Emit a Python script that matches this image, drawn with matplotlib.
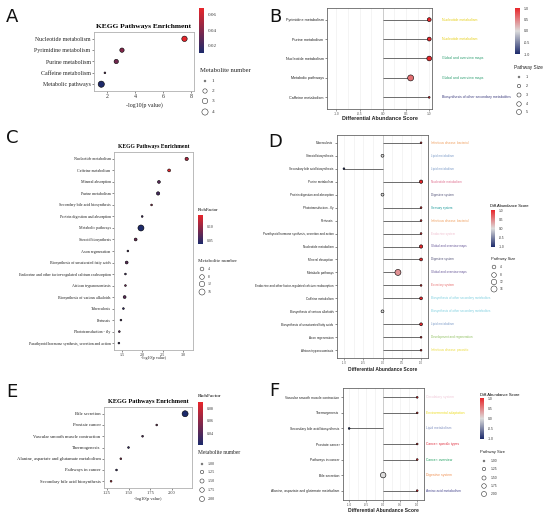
import matplotlib
matplotlib.use("Agg")
import matplotlib.pyplot as plt
import numpy as np
from matplotlib.colors import LinearSegmentedColormap, Normalize
from matplotlib.cm import ScalarMappable

# ---------------- DATA ----------------
# Panel A
a_paths = ["Nucleotide metabolism", "Pyrimidine metabolism", "Purine metabolism",
           "Caffeine metabolism", "Metabolic pathways"]
a_logp = [7.52, 3.05, 2.64, 1.83, 1.57]
a_rich = [0.068, 0.040, 0.035, 0.030, 0.011]
a_num = [3, 2, 2, 1, 4]
a_rich_ticks = [0.02, 0.04, 0.06]
a_num_legend = [1, 2, 3, 4]

# Panel B
b_paths = ["Pyrimidine metabolism", "Purine metabolism", "Nucleotide metabolism",
           "Metabolic pathways", "Caffeine metabolism"]
b_score = [1.0, 1.0, 1.0, 0.6, 1.0]
b_size = [2, 2, 3, 5, 1]
b_class = ["Nucleotide metabolism", "Nucleotide metabolism", "Global and overview maps",
           "Global and overview maps", "Biosynthesis of other secondary metabolites"]
b_size_legend = [1, 2, 3, 4, 5]

# Panel C
c_paths = ["Nucleotide metabolism", "Caffeine metabolism", "Mineral absorption",
           "Purine metabolism", "Secondary bile acid biosynthesis",
           "Protein digestion and absorption", "Metabolic pathways", "Steroid biosynthesis",
           "Axon regeneration", "Biosynthesis of unsaturated fatty acids",
           "Endocrine and other factor-regulated calcium reabsorption",
           "African trypanosomiasis", "Biosynthesis of various alkaloids", "Tuberculosis",
           "Pertussis", "Phototransduction - fly",
           "Parathyroid hormone synthesis, secretion and action"]
c_logp = [3.09, 2.66, 2.41, 2.39, 2.23, 2.00, 1.97, 1.84, 1.65, 1.62, 1.59, 1.59,
          1.57, 1.54, 1.48, 1.44, 1.43]
c_rich = [0.11, 0.14, 0.07, 0.06, 0.10, 0.06, 0.04, 0.08, 0.06, 0.07, 0.06, 0.08,
          0.07, 0.05, 0.06, 0.07, 0.05]
c_num = [3, 2, 2, 3, 1, 1, 16, 2, 1, 2, 1, 1, 2, 1, 1, 1, 1]
c_rich_ticks = [0.05, 0.10]
c_num_legend = [4, 8, 12, 16]

# Panel D
d_paths = ["Tuberculosis", "Steroid biosynthesis", "Secondary bile acid biosynthesis",
           "Purine metabolism", "Protein digestion and absorption", "Phototransduction - fly",
           "Pertussis", "Parathyroid hormone synthesis, secretion and action",
           "Nucleotide metabolism", "Mineral absorption", "Metabolic pathways",
           "Endocrine and other factor-regulated calcium reabsorption", "Caffeine metabolism",
           "Biosynthesis of various alkaloids", "Biosynthesis of unsaturated fatty acids",
           "Axon regeneration", "African trypanosomiasis"]
d_score = [1.0, 0.0, -1.0, 1.0, 0.0, 1.0, 1.0, 1.0, 1.0, 1.0, 0.4, 1.0, 1.0, 0.0, 1.0, 1.0, 1.0]
d_size = [1, 2, 1, 3, 2, 1, 1, 1, 3, 2, 16, 1, 2, 2, 2, 1, 1]
d_class = ["Infectious disease: bacterial", "Lipid metabolism", "Lipid metabolism",
           "Nucleotide metabolism", "Digestive system", "Sensory system",
           "Infectious disease: bacterial", "Endocrine system", "Global and overview maps",
           "Digestive system", "Global and overview maps", "Excretory system",
           "Biosynthesis of other secondary metabolites",
           "Biosynthesis of other secondary metabolites", "Lipid metabolism",
           "Development and regeneration", "Infectious disease: parasitic"]
d_size_legend = [4, 8, 12, 16]

# Panel E
e_paths = ["Bile secretion", "Prostate cancer", "Vascular smooth muscle contraction",
           "Thermogenesis", "Alanine, aspartate and glutamate metabolism",
           "Pathways in cancer", "Secondary bile acid biosynthesis"]
e_logp = [2.155, 1.826, 1.662, 1.499, 1.41, 1.36, 1.297]
e_rich = [0.021, 0.05, 0.04, 0.03, 0.06, 0.03, 0.08]
e_num = [2, 1, 1, 1, 1, 1, 1]
e_rich_ticks = [0.04, 0.06, 0.08]
e_num_legend = [1.00, 1.25, 1.50, 1.75, 2.00]

# Panel F
f_paths = ["Vascular smooth muscle contraction", "Thermogenesis",
           "Secondary bile acid biosynthesis", "Prostate cancer", "Pathways in cancer",
           "Bile secretion", "Alanine, aspartate and glutamate metabolism"]
f_score = [1.0, 1.0, -1.0, 1.0, 1.0, 0.0, 1.0]
f_size = [1, 1, 1, 1, 1, 2, 1]
f_class = ["Circulatory system", "Environmental adaptation", "Lipid metabolism",
           "Cancer: specific types", "Cancer: overview", "Digestive system",
           "Amino acid metabolism"]
f_size_legend = [1.00, 1.25, 1.50, 1.75, 2.00]

score_ticks = [1.0, 0.5, 0.0, -0.5, -1.0]

# ---------------- STYLE ----------------
W, H = 550, 517
SERIF = "Liberation Serif"
SANS = "Liberation Sans"
rich_cmap = LinearSegmentedColormap.from_list("rich", ["#1c2a6b", "#e8262b"])
score_cmap = LinearSegmentedColormap.from_list("score", ["#1c2a6b", "#dcdcdc", "#e8262b"])

b_colors = {"Nucleotide metabolism": "#e6cf1a", "Global and overview maps": "#2f9f72",
            "Biosynthesis of other secondary metabolites": "#3f3f80"}
d_colors = {"Infectious disease: bacterial": "#f0a060", "Lipid metabolism": "#7d9cc8",
            "Nucleotide metabolism": "#e07090", "Digestive system": "#55557a",
            "Sensory system": "#1a9a9a", "Endocrine system": "#f0c0d0",
            "Global and overview maps": "#6a5a9a", "Excretory system": "#e87070",
            "Biosynthesis of other secondary metabolites": "#80d0e0",
            "Development and regeneration": "#90c060",
            "Infectious disease: parasitic": "#ecdc40"}
f_colors = {"Circulatory system": "#f0c8d8", "Environmental adaptation": "#ecdc20",
            "Lipid metabolism": "#8090c0", "Cancer: specific types": "#e03040",
            "Cancer: overview": "#20a060", "Digestive system": "#f09050",
            "Amino acid metabolism": "#4a4a90"}

fig = plt.figure(figsize=(W / 100, H / 100), dpi=100)
fig.patch.set_facecolor("white")


def add_ax(l, t, r, b):
    return fig.add_axes([l / W, 1 - b / H, (r - l) / W, (b - t) / H])


def s_of(d_px):
    return (d_px * 72 / 100) ** 2


def diam(v, lo, hi, dmin, dmax):
    v = np.asarray(v, dtype=float)
    return dmin + (dmax - dmin) * np.sqrt(np.clip((v - lo) / (hi - lo), 0, 1))


ov = fig.add_axes([0, 0, 1, 1], zorder=10)
ov.set_xlim(0, W)
ov.set_ylim(H, 0)
ov.axis("off")
ov.patch.set_alpha(0)


def style_axes(ax, edge, fs_y, fs_x, family):
    for sp in ax.spines.values():
        sp.set_color(edge)
        sp.set_linewidth(0.6)
    ax.tick_params(axis="both", length=1.5, width=0.4, pad=1, colors="#333333")
    for lab in ax.get_yticklabels():
        lab.set_fontsize(fs_y)
        lab.set_family(family)
        lab.set_color("#222222")
    for lab in ax.get_xticklabels():
        lab.set_fontsize(fs_x)
        lab.set_family(family)
        lab.set_color("#333333")


def enrich_panel(box, paths, x, rich, num, xlim, xticks, xticklabels, rnorm, nlo, nhi,
                 dmin, dmax, fs_y, fs_x, title, title_fs, xlab_y, xlab_fs):
    ax = add_ax(*box)
    n = len(paths)
    y = np.arange(n)[::-1]
    d = diam(num, nlo, nhi, dmin, dmax)
    ax.scatter(x, y, s=s_of(d), c=rich, cmap=rich_cmap, norm=rnorm,
               edgecolors="black", linewidths=0.4, zorder=3)
    ax.set_xlim(*xlim)
    ax.set_ylim(-0.6, n - 0.4)
    ax.set_yticks(y)
    ax.set_yticklabels(paths)
    ax.set_xticks(xticks)
    ax.set_xticklabels(xticklabels)
    style_axes(ax, "#b0b0b0", fs_y, fs_x, SERIF)
    cx = (box[0] + box[2]) / 2
    ov.text(cx, box[1] - 3, title, ha="center", va="bottom", fontsize=title_fs,
            fontweight="bold", family=SERIF)
    ov.text(cx, xlab_y, "-log10(p value)", ha="center", va="center", fontsize=xlab_fs,
            family=SERIF, color="#222222")
    return ax


def lollipop_panel(box, paths, score, size, classes, cmap_cls, slo, shi, dmin, dmax,
                   fs_y, fs_x, fs_cls, xlim, xlab_y, xlab_fs, cls_x):
    ax = add_ax(*box)
    n = len(paths)
    y = np.arange(n)[::-1]
    for xv in np.arange(-1.0, 1.01, 0.25):
        ax.axvline(xv, color="#ececec", lw=0.4, zorder=0)
    ax.axvline(0, color="#bdbdbd", lw=0.5, zorder=1)
    ax.hlines(y, 0, score, color="#555555", lw=0.6, zorder=2)
    d = diam(size, slo, shi, dmin, dmax)
    ax.scatter(score, y, s=s_of(d), c=score, cmap=score_cmap, norm=Normalize(-1, 1),
               edgecolors="black", linewidths=0.4, zorder=3)
    ax.set_xlim(*xlim)
    ax.set_ylim(-0.6, n - 0.4)
    ax.set_yticks(y)
    ax.set_yticklabels(paths)
    ax.set_xticks(score_ticks[::-1])
    ax.set_xticklabels(["-1.0", "-0.5", "0.0", "0.5", "1.0"])
    style_axes(ax, "#666666", fs_y, fs_x, SANS)
    ax.tick_params(axis="x", colors="#555555", pad=0.6)
    cx = (box[0] + box[2]) / 2
    ov.text(cx, xlab_y, "Differential Abundance Score", ha="center", va="center",
            fontsize=xlab_fs, fontweight="bold", family=SANS, color="#222222")
    top, bot = box[1], box[3]
    sp = (bot - top) / (n + 0.2)
    for i, c in enumerate(classes):
        yy = top + (0.6 + i) * sp
        ov.text(cls_x, yy, c, ha="left", va="center", fontsize=fs_cls, family=SANS,
                color=cmap_cls[c])
    return ax


def colorbar(box, cmap, norm, ticks, labels, fs, family):
    cax = add_ax(*box)
    cb = fig.colorbar(ScalarMappable(norm=norm, cmap=cmap), cax=cax)
    cb.set_ticks(ticks)
    cb.set_ticklabels(labels)
    cb.outline.set_visible(False)
    cax.tick_params(length=1.0, width=0.3, pad=1.5, colors="white", labelcolor="#333333")
    for lab in cax.get_yticklabels():
        lab.set_fontsize(fs)
        lab.set_family(family)
    return cax


def size_legend(title, tx, ty, values, labels, cx, lx, ys, lo, hi, dmin, dmax, fs_t, fs_l,
                family):
    ov.text(tx, ty, title, ha="left", va="center", fontsize=fs_t, family=family,
            color="#222222")
    d = diam(values, lo, hi, dmin, dmax)
    ov.scatter([cx] * len(values), ys, s=s_of(d), facecolors="white", edgecolors="#333333",
               linewidths=0.4)
    for yy, lb in zip(ys, labels):
        ov.text(lx, yy, lb, ha="left", va="center", fontsize=fs_l, family=family,
                color="#333333")


# ---------------- PANEL A ----------------
a_norm = Normalize(0.0105, 0.069)
enrich_panel((94, 32, 194, 91), a_paths, a_logp, a_rich, a_num, (1.05, 8.2), [2, 4, 6, 8],
             ["2", "4", "6", "8"], a_norm, 1, 4, 1.8, 6.2, 4.2, 4.3,
             "KEGG Pathways Enrichment", 5.4, 105, 4.2)
colorbar((199, 8, 204, 53), rich_cmap, a_norm, a_rich_ticks,
         ["0.02", "0.04", "0.06"], 3.6, SERIF)
size_legend("Metabolite number", 200, 70, a_num_legend, ["1", "2", "3", "4"], 205, 212,
            [81, 91, 101, 112], 1, 4, 1.8, 6.2, 4.8, 3.8, SERIF)

# ---------------- PANEL B ----------------
lollipop_panel((327, 8, 432, 109), b_paths, b_score, b_size, b_class, b_colors, 1, 5,
               1.8, 6.0, 2.7, 2.3, 2.5, (-1.2, 1.06), 118.5, 3.9, 442)
colorbar((515, 8, 520, 54), score_cmap, Normalize(-1, 1), score_ticks,
         ["1.0", "0.5", "0.0", "-0.5", "-1.0"], 2.6, SANS)
size_legend("Pathway Size", 514, 67, b_size_legend, ["1", "2", "3", "4", "5"], 519, 526,
            [77, 86, 95, 104, 112], 1, 5, 1.8, 5.0, 3.4, 2.7, SANS)

# ---------------- PANEL C ----------------
c_norm = Normalize(0.039, 0.143)
enrich_panel((114, 152, 193, 350), c_paths, c_logp, c_rich, c_num, (1.31, 3.245),
             [1.5, 2.0, 2.5, 3.0], ["1.5", "2.0", "2.5", "3.0"], c_norm, 1, 16, 1.8, 6.0,
             2.9, 3.0, "KEGG Pathways Enrichment", 4.1, 358, 3.0)
ov.text(198, 210, "RichFactor", ha="left", va="center", fontsize=3.3, family=SERIF)
colorbar((198, 215, 203, 244), rich_cmap, c_norm, c_rich_ticks, ["0.05", "0.10"], 2.8, SERIF)
size_legend("Metabolite number", 198, 261, c_num_legend, ["4", "8", "12", "16"], 202, 208,
            [269, 277, 284, 292], 1, 16, 1.8, 6.0, 3.6, 2.8, SERIF)

# ---------------- PANEL D ----------------
lollipop_panel((337, 135, 428, 358), d_paths, d_score, d_size, d_class, d_colors, 1, 16,
               1.8, 6.0, 2.2, 2.0, 2.2, (-1.18, 1.18), 369.5, 3.5, 431)
ov.text(490, 206, "Diff.Abundance Score", ha="left", va="center", fontsize=2.9, family=SANS)
colorbar((491, 210, 495, 247), score_cmap, Normalize(-1, 1), score_ticks,
         ["1.0", "0.5", "0.0", "-0.5", "-1.0"], 2.3, SANS)
size_legend("Pathway Size", 491, 259, d_size_legend, ["4", "8", "12", "16"], 494, 500,
            [267, 275, 282, 289], 1, 16, 1.8, 6.0, 2.9, 2.3, SANS)

# ---------------- PANEL E ----------------
e_norm = Normalize(0.021, 0.0896)
enrich_panel((104, 407, 192, 488), e_paths, e_logp, e_rich, e_num, (1.215, 2.235),
             [1.25, 1.50, 1.75, 2.00], ["1.25", "1.50", "1.75", "2.00"], e_norm, 1, 2,
             1.8, 6.0, 3.3, 3.2, "KEGG Pathways Enrichment", 4.6, 499, 3.2)
ov.text(198, 396, "RichFactor", ha="left", va="center", fontsize=3.8, family=SERIF)
colorbar((198, 402, 203, 445), rich_cmap, e_norm, e_rich_ticks, ["0.04", "0.06", "0.08"],
         3.0, SERIF)
size_legend("Metabolite number", 198, 453, e_num_legend,
            ["1.00", "1.25", "1.50", "1.75", "2.00"], 202, 208,
            [464, 472, 481, 490, 499], 1, 2, 1.8, 5.0, 4.0, 3.0, SERIF)

# ---------------- PANEL F ----------------
lollipop_panel((343, 388, 424, 500), f_paths, f_score, f_size, f_class, f_colors, 1, 2,
               1.8, 5.5, 2.4, 2.2, 2.4, (-1.18, 1.2), 510.5, 3.6, 426)
ov.text(480, 395, "Diff.Abundance Score", ha="left", va="center", fontsize=3.0, family=SANS)
colorbar((480, 398, 484, 439), score_cmap, Normalize(-1, 1), score_ticks,
         ["1.0", "0.5", "0.0", "-0.5", "-1.0"], 2.4, SANS)
size_legend("Pathway Size", 480, 452, f_size_legend,
            ["1.00", "1.25", "1.50", "1.75", "2.00"], 484, 491,
            [461, 469, 478, 486, 494], 1, 2, 1.8, 5.0, 3.0, 2.4, SANS)

# ---------------- PANEL LETTERS ----------------
for lt, x, y in [("A", 6, 17), ("B", 269, 17), ("C", 6, 138), ("D", 268, 142),
                 ("E", 6, 392), ("F", 269, 391)]:
    ov.text(x, y, lt, ha="left", va="center", fontsize=13, family="DejaVu Sans",
            color="#111111")

fig.savefig("out.png", dpi=100, facecolor="white")
